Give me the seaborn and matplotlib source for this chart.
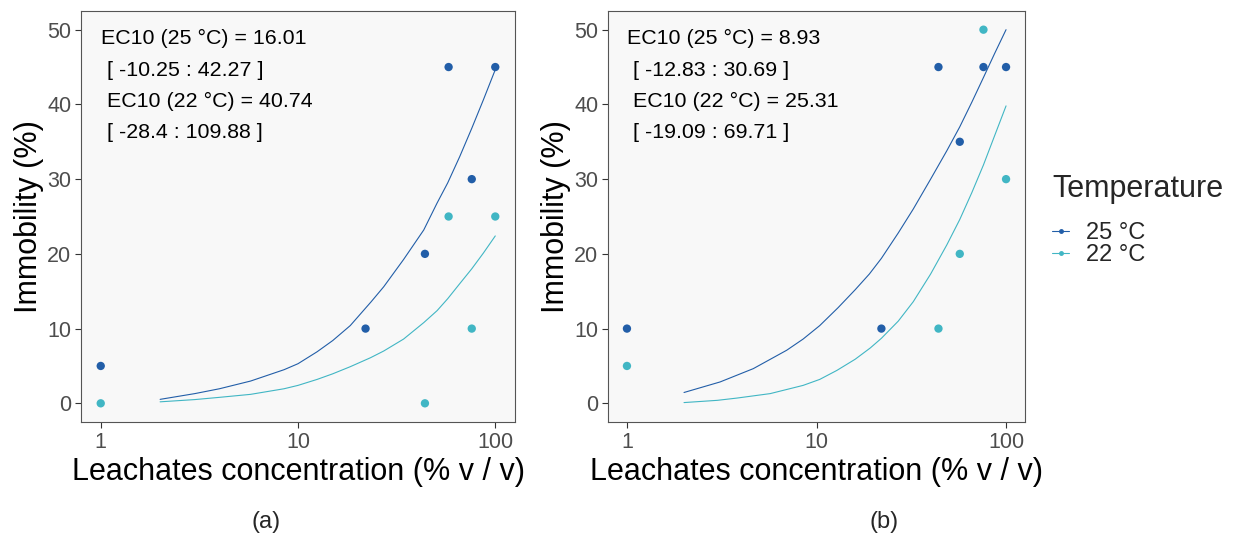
import matplotlib
matplotlib.use("Agg")
import matplotlib.pyplot as plt
from matplotlib.lines import Line2D
from matplotlib.ticker import FixedLocator, FixedFormatter, NullLocator
import seaborn as sns
import pandas as pd

sns.set_style("white")
plt.rcParams["font.family"] = ["Liberation Sans", "DejaVu Sans"]

temps = ["25 °C", "22 °C"]
colors = {"25 °C": "#225EA8", "22 °C": "#41B6C4"}

# observed points
conc_a_25 = [1, 22, 44, 58, 76, 100]
imm_a_25 = [5, 10, 20, 45, 30, 45]
conc_a_22 = [1, 44, 58, 76, 100]
imm_a_22 = [0, 0, 25, 10, 25]

conc_b_25 = [1, 22, 44, 57, 76, 100]
imm_b_25 = [10, 10, 45, 35, 45, 45]
conc_b_22 = [1, 44, 57, 76, 100]
imm_b_22 = [5, 10, 20, 50, 30]

# fitted curves
fit_a_25_x = [2, 3, 4, 5.75, 8.5, 10, 12.5, 15, 18.4, 23.5, 27.2, 34.3, 43.4, 50.7, 57.4, 66, 76, 87, 100]
fit_a_25_y = [0.53, 1.3, 1.95, 2.98, 4.5, 5.3, 6.9, 8.4, 10.4, 13.6, 15.6, 19.25, 23.2, 26.8, 29.5, 33.0, 36.8, 40.6, 44.65]
fit_a_22_x = [2, 3, 4, 5.75, 8.5, 10, 12.5, 15, 18.4, 23.3, 27.2, 34.3, 43.4, 50.7, 57.4, 66, 76, 87, 100]
fit_a_22_y = [0.2, 0.5, 0.8, 1.2, 1.95, 2.4, 3.2, 3.95, 4.9, 6.1, 7.0, 8.6, 10.8, 12.4, 14.0, 16.0, 18.0, 20.1, 22.4]

fit_b_25_x = [2, 3.1, 4.64, 6.96, 8.5, 10.4, 13, 16, 19, 22, 27, 32.4, 40, 48.7, 57, 66, 76, 87, 100]
fit_b_25_y = [1.45, 2.86, 4.64, 7.1, 8.6, 10.4, 12.8, 15.2, 17.3, 19.4, 22.8, 26.0, 30.0, 33.8, 37.0, 40.3, 43.6, 46.8, 50.0]
fit_b_22_x = [2, 3, 3.8, 5.7, 8.5, 10.4, 12.8, 16, 19.2, 22, 27, 32.4, 40, 48.7, 57, 66, 76, 87, 100]
fit_b_22_y = [0.1, 0.4, 0.7, 1.3, 2.4, 3.2, 4.4, 5.9, 7.4, 8.7, 11.0, 13.6, 17.3, 21.2, 24.6, 28.2, 31.9, 35.8, 39.8]

ann_a = ["EC10 (25 °C) = 16.01", " [ -10.25 : 42.27 ]", " EC10 (22 °C) = 40.74", " [ -28.4 : 109.88 ]"]
ann_b = ["EC10 (25 °C) = 8.93", " [ -12.83 : 30.69 ]", " EC10 (22 °C) = 25.31", " [ -19.09 : 69.71 ]"]

xticks = [1, 10, 100]
xticklabels = ["1", "10", "100"]
yticks = [0, 10, 20, 30, 40, 50]


def pts_df(x25, y25, x22, y22):
    return pd.DataFrame({
        "x": list(x25) + list(x22),
        "y": list(y25) + list(y22),
        "T": [temps[0]] * len(x25) + [temps[1]] * len(x22),
    })


W, H = 1233, 540
fig = plt.figure(figsize=(W / 100, H / 100), dpi=100)
fig.patch.set_facecolor("white")

panels = [
    (81, 515, pts_df(conc_a_25, imm_a_25, conc_a_22, imm_a_22),
     pts_df(fit_a_25_x, fit_a_25_y, fit_a_22_x, fit_a_22_y), ann_a, "(a)", 266),
    (608, 1025, pts_df(conc_b_25, imm_b_25, conc_b_22, imm_b_22),
     pts_df(fit_b_25_x, fit_b_25_y, fit_b_22_x, fit_b_22_y), ann_b, "(b)", 884),
]

top, bot = 11, 422
for left, right, pts, fit, ann, lab, labx in panels:
    ax = fig.add_axes([left / W, 1 - bot / H, (right - left) / W, (bot - top) / H])
    ax.set_facecolor("#F8F8F8")
    ax.set_xscale("log")
    sns.lineplot(data=fit, x="x", y="y", hue="T", palette=colors, ax=ax,
                 estimator=None, sort=True, linewidth=0.8, legend=False)
    sns.scatterplot(data=pts, x="x", y="y", hue="T", palette=colors, ax=ax,
                    s=36, edgecolor="none", legend=False, zorder=3)
    ax.set_xlim(10 ** -0.1, 10 ** 2.1)
    ax.set_ylim(-2.5, 52.5)
    ax.xaxis.set_major_locator(FixedLocator(xticks))
    ax.xaxis.set_major_formatter(FixedFormatter(xticklabels))
    ax.xaxis.set_minor_locator(NullLocator())
    ax.set_yticks(yticks)
    ax.tick_params(axis="both", which="major", length=4.5, width=0.8, color="#333333",
                   labelcolor="#4D4D4D", labelsize=15.5, pad=2.5, direction="out",
                   bottom=True, left=True)
    for sp in ax.spines.values():
        sp.set_color("#555555")
        sp.set_linewidth(0.8)
    ax.set_xlabel("Leachates concentration (% v / v)", fontsize=22, color="black", labelpad=3)
    ax.set_ylabel("Immobility (%)", fontsize=22, color="black", labelpad=2)
    ys = [38, 70, 101, 132]
    for txt, yy in zip(ann, ys):
        ax.text(0.046, 1 - (yy - top) / (bot - top), txt, transform=ax.transAxes,
                fontsize=15.4, ha="left", va="center", color="black")
    fig.text(labx / W, 1 - 522 / H, lab, ha="center", va="center", fontsize=17)

handles = [Line2D([], [], color=colors[t], lw=0.8, marker="o", markersize=2.5) for t in temps]
leg = fig.legend(handles=handles, labels=temps, title="Temperature",
                 loc="upper left", bbox_to_anchor=(1031 / W, 1 - 153 / H),
                 frameon=False, fontsize=17, title_fontsize=22,
                 handlelength=0.7, handletextpad=0.75, labelspacing=0.0)
leg._legend_box.align = "left"
leg._legend_box.sep = 13

fig.savefig("out.png", dpi=100)
